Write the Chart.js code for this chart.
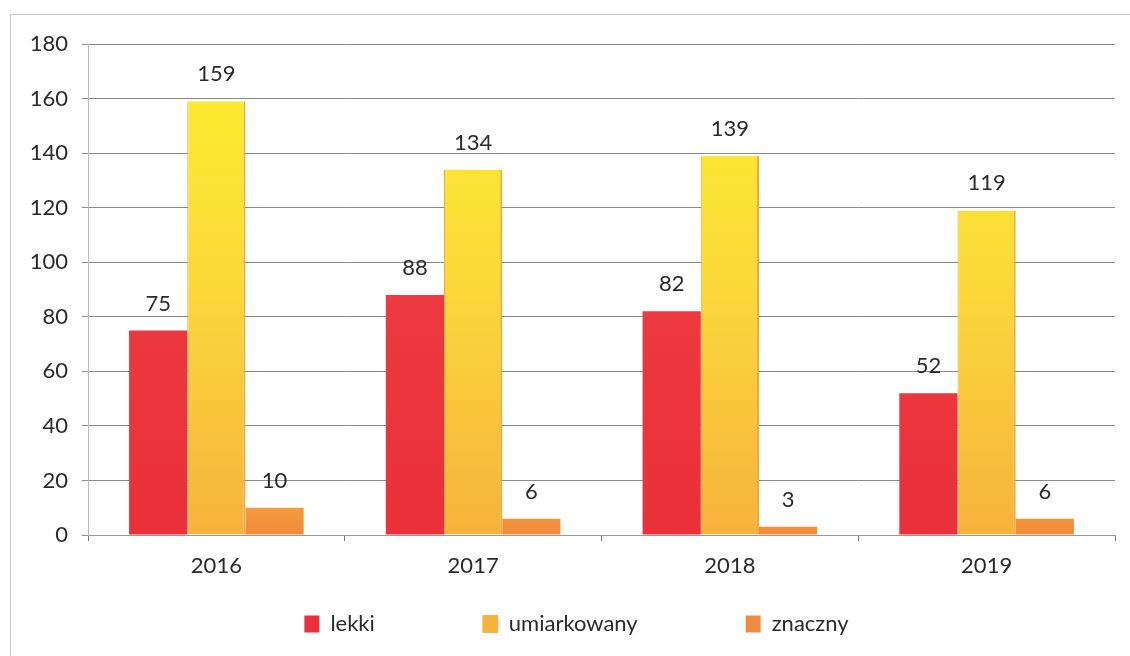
<!DOCTYPE html>
<html>
<head>
<meta charset="utf-8">
<script src="https://cdn.jsdelivr.net/npm/chart.js@4.4.1/dist/chart.umd.min.js"></script>
<style>
  html, body { margin: 0; padding: 0; background: #fff; }
  #wrap { position: relative; width: 1130px; height: 656px; }
  #frame { position: absolute; left: 10px; top: 14px; width: 1130px; height: 660px; border: 1px solid #c8c8c8; box-sizing: border-box; }
  canvas { position: absolute; left: 0; top: 0; }
</style>
</head>
<body>
<div id="wrap">
  <div id="frame"></div>
  <canvas id="chart" width="1130" height="656"></canvas>
</div>
<script>
// data
var years = ['2016', '2017', '2018', '2019'];
var lekki = [75, 88, 82, 52];
var umiarkowany = [159, 134, 139, 119];
var znaczny = [10, 6, 3, 6];
var seriesNames = ['lekki', 'umiarkowany', 'znaczny'];
var yTicks = [0, 20, 40, 60, 80, 100, 120, 140, 160, 180];

var FONT = 'Lato, "Noto Sans", sans-serif';
var LEGEND_PAD = 108;

// vertical gradients like the scanned bars
function grad(stops) {
	return function(ctx) {
		var area = ctx.chart.chartArea;
		if (!area) return stops[stops.length - 1][1];
		var g = ctx.chart.ctx.createLinearGradient(0, area.top, 0, area.bottom);
		stops.forEach(function(s) { g.addColorStop(s[0], s[1]); });
		return g;
	};
}

// values above the bars
var valueLabels = {
	id: 'valueLabels',
	afterDatasetsDraw: function(chart) {
		var c = chart.ctx;
		c.save();
		c.font = '22px ' + FONT;
		c.fillStyle = '#2a2a2a';
		c.textAlign = 'center';
		c.textBaseline = 'middle';
		chart.data.datasets.forEach(function(ds, i) {
			chart.getDatasetMeta(i).data.forEach(function(bar, j) {
				c.fillText(ds.data[j], bar.x, bar.y - 27);
			});
		});
		c.restore();
	}
};

// legend needs wide gaps (big padding), pull it back up after layout
var legendShift = {
	id: 'legendShift',
	afterLayout: function(chart) {
		var lg = chart.legend;
		lg.top = 613 - LEGEND_PAD;
		lg.bottom = chart.height;
		lg.height = lg.bottom - lg.top;
		lg.left += 14;
		lg.right += 14;
	}
};

var ctx = document.getElementById('chart').getContext('2d');
var chart = new Chart(ctx, {
	type: 'bar',
	data: {
		labels: years,
		datasets: [{
			label: seriesNames[0],
			data: lekki,
			backgroundColor: grad([[0, '#f0424a'], [1, '#ea3038']]),
			borderWidth: 0
		}, {
			label: seriesNames[1],
			data: umiarkowany,
			backgroundColor: grad([[0, '#fdf02c'], [0.5, '#fbd83a'], [1, '#f6b23c']]),
			borderColor: '#f0a83a',
			borderWidth: { left: 1, right: 2, top: 0, bottom: 0 }
		}, {
			label: seriesNames[2],
			data: znaczny,
			backgroundColor: grad([[0, '#fbd040'], [0.92, '#f6a43c'], [1, '#f08a3c']]),
			borderWidth: 0
		}]
	},
	options: {
		responsive: false,
		animation: false,
		layout: { padding: { left: 10, top: 44, right: 15, bottom: 0 } },
		datasets: { bar: { categoryPercentage: 0.68, barPercentage: 1 } },
		scales: {
			x: {
				grid: { display: true, drawOnChartArea: false, offset: true, color: '#777', tickLength: 6 },
				border: { color: '#999' },
				ticks: { font: { family: FONT, size: 22 }, color: '#2a2a2a', padding: 12 },
				afterFit: function(s) { s.height = 61; }
			},
			y: {
				min: 0,
				max: 180,
				afterBuildTicks: function(s) { s.ticks = yTicks.map(function(v) { return { value: v }; }); },
				grid: { color: '#8a8a8a', tickLength: 6 },
				border: { color: '#bbb' },
				ticks: { font: { family: FONT, size: 22 }, color: '#2a2a2a', padding: 14 },
				afterFit: function(s) { s.width = 78; }
			}
		},
		plugins: {
			legend: {
				position: 'bottom',
				maxHeight: 60,
				labels: {
					font: { family: FONT, size: 22 },
					color: '#2a2a2a',
					boxWidth: 15,
					boxHeight: 17,
					padding: LEGEND_PAD
				}
			},
			tooltip: { enabled: false }
		}
	},
	plugins: [valueLabels, legendShift]
});
</script>
</body>
</html>
